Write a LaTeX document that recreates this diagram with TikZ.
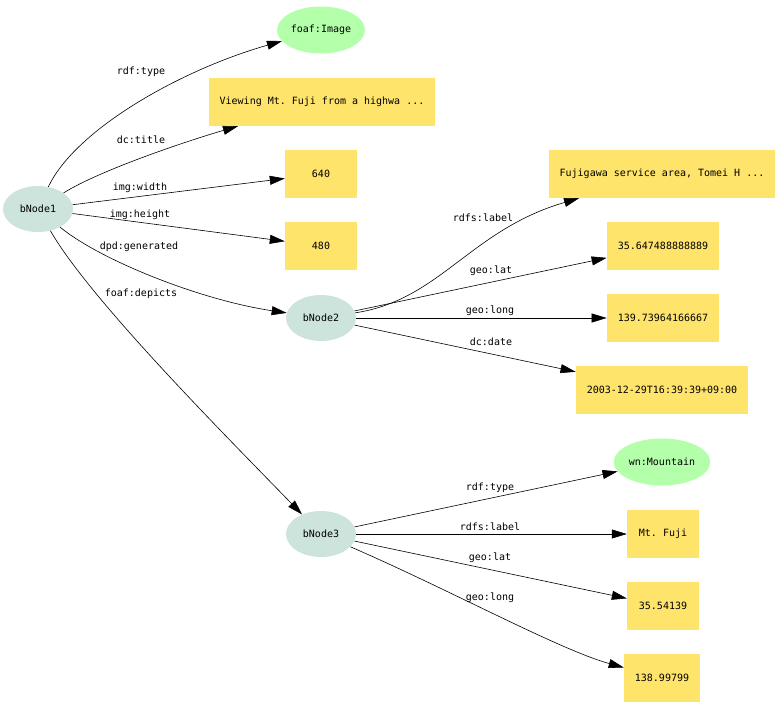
\documentclass[tikz,border=0pt]{standalone}
\usepackage{fontspec}
\setmonofont{DejaVu Sans Mono}
\usetikzlibrary{shapes.geometric,arrows.meta}
\definecolor{bnodefill}{RGB}{204,228,220}
\definecolor{clsfill}{RGB}{180,255,170}
\definecolor{litfill}{RGB}{255,228,108}
\begin{document}
\begin{tikzpicture}[x=1pt,y=-1pt,font=\ttfamily\fontsize{10}{12}\selectfont,
    bnode/.style={ellipse,fill=bnodefill,minimum width=70pt,minimum height=46pt,inner sep=1.5pt},
    cls/.style={ellipse,fill=clsfill,minimum width=70pt,minimum height=47pt,inner sep=1pt},
    lit/.style={rectangle,fill=litfill,minimum width=72pt,minimum height=48pt,inner xsep=11pt},
    lbl/.style={inner sep=1pt},
    edge/.style={line width=0.6pt,-{Triangle[length=15pt,width=9pt]}}]

      \useasboundingbox (0,0) rectangle (784,707);

      \node[bnode] (b1) at (38,209) {bNode1};
      \node[bnode] (b2) at (321,318) {bNode2};
      \node[bnode] (b3) at (321,534) {bNode3};

      \node[cls] (img) at (321,30) {foaf:Image};
      \node[lit] (title) at (322,102) {Viewing Mt. Fuji from a highwa ...};
      \node[lit] (wd) at (321,174) {640};
      \node[lit] (ht) at (321,246) {480};

      \node[lit] (lab2) at (662,174) {Fujigawa service area, Tomei H ...};
      \node[lit] (lat2) at (663,246) {35.647488888889};
      \node[lit] (long2) at (663,318) {139.73964166667};
      \node[lit] (date2) at (662,390) {2003-12-29T16:39:39+09:00};

      \node[cls] (mtn) at (662,462) {wn:Mountain};
      \node[lit] (lab3) at (663,534) {Mt. Fuji};
      \node[lit] (lat3) at (663,606) {35.54139};
      \node[lit] (long3) at (662,678) {138.99799};

      \draw[edge] (b1) .. controls (75,130) and (180,70) .. (img);
      \draw[edge] (b1) .. controls (100,170) and (190,140) .. (title);
      \draw[edge] (b1) -- (wd);
      \draw[edge] (b1) -- (ht);
      \draw[edge] (b1) .. controls (100,260) and (200,300) .. (b2);
      \draw[edge] (b1) .. controls (90,300) and (230,440) .. (b3);

      \draw[edge] (b2) .. controls (440,300) and (470,230) .. (lab2);
      \draw[edge] (b2) -- (lat2);
      \draw[edge] (b2) -- (long2);
      \draw[edge] (b2) -- (date2);

      \draw[edge] (b3) -- (mtn);
      \draw[edge] (b3) -- (lab3);
      \draw[edge] (b3) -- (lat3);
      \draw[edge] (b3) .. controls (450,590) and (560,650) .. (long3);

      \node[lbl] (e1) at (141,72) {rdf:type};
      \node[lbl] (e2) at (141,140) {dc:title};
      \node[lbl] (e3) at (140,188) {img:width};
      \node[lbl] (e4) at (140,215) {img:height};
      \node[lbl] (e5) at (139,247) {dpd:generated};
      \node[lbl] (e6) at (141,294) {foaf:depicts};

      \node[lbl] (e7) at (483,218) {rdfs:label};
      \node[lbl] (e8) at (491,271) {geo:lat};
      \node[lbl] (e9) at (490,311) {geo:long};
      \node[lbl] (e10) at (491,342) {dc:date};

      \node[lbl] (e11) at (490,488) {rdf:type};
      \node[lbl] (e12) at (490,527) {rdfs:label};
      \node[lbl] (e13) at (490,558) {geo:lat};
      \node[lbl] (e14) at (490,598) {geo:long};

    \end{tikzpicture}
\end{document}
